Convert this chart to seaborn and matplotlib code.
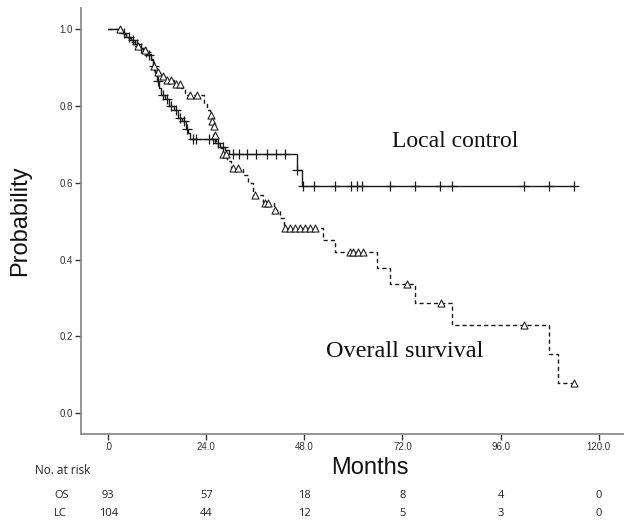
import numpy as np
import pandas as pd
import seaborn as sns
import matplotlib
matplotlib.use("Agg")
import matplotlib.pyplot as plt
import matplotlib.transforms as mtransforms

# # Data

# local control: step times (months) and survival after each step
lc_times = [0, 3.5, 4.5, 5.5, 6.5, 7.5, 8.5, 9.5, 10.5, 11.0, 11.5, 12.0, 12.5, 13.0, 14.0,
            15.0, 16.0, 17.0, 18.0, 19.0, 19.5, 20.0, 26.2, 27.4, 28.5, 29.5, 46.1, 47.4, 114.0]
lc_surv = [1.0, 0.99, 0.981, 0.971, 0.962, 0.952, 0.942, 0.933, 0.923, 0.904, 0.885, 0.866, 0.847, 0.828, 0.818,
           0.799, 0.789, 0.770, 0.760, 0.741, 0.731, 0.714, 0.703, 0.694, 0.685, 0.675, 0.633, 0.593, 0.593]
lc_cens = [3.8, 5.0, 6.0, 7.0, 8.0, 9.2, 10.0, 11.2, 12.3, 13.5, 14.5, 15.5, 16.5, 17.5, 18.5, 19.2,
           20.8, 21.6, 24.7, 25.6, 26.8, 28.0, 30.6, 31.9, 34.1, 36.3, 38.9, 41.0, 43.3, 46.1, 47.7,
           50.4, 55.5, 59.4, 61.0, 62.2, 69.0, 75.1, 81.3, 84.2, 101.7, 107.8, 114.0]

# overall survival
os_times = [0, 3.5, 4.5, 5.5, 6.5, 8.0, 9.5, 10.5, 11.0, 11.5, 12.8, 14.0, 16.0, 17.8, 18.8, 23.5, 24.2,
            25.0, 25.3, 25.7, 26.0, 26.5, 27.0, 28.0, 29.0, 30.0, 33.0, 34.3, 35.5, 38.0, 40.5, 42.0, 43.0,
            52.6, 55.5, 65.7, 69.0, 75.1, 84.2, 107.8, 110.1, 114.0]
os_surv = [1.0, 0.989, 0.978, 0.968, 0.957, 0.946, 0.935, 0.92, 0.905, 0.89, 0.878, 0.868, 0.857, 0.846, 0.83, 0.805, 0.79,
           0.778, 0.76, 0.747, 0.725, 0.708, 0.69, 0.674, 0.656, 0.639, 0.621, 0.60, 0.569, 0.548, 0.53, 0.508, 0.483,
           0.452, 0.421, 0.378, 0.336, 0.288, 0.23, 0.155, 0.078, 0.078]
os_cens = [2.9, 7.4, 9.0, 11.2, 12.3, 13.5, 14.3, 15.5, 16.7, 17.5, 20.0, 21.8, 25.1, 25.4, 25.8, 26.2,
           28.2, 28.9, 30.6, 31.8, 36.0, 38.4, 39.0, 40.8, 43.3, 44.5, 45.7, 46.9, 48.1, 49.4, 50.6,
           59.2, 60.0, 61.2, 62.4, 73.0, 81.4, 101.7, 114.0]

risk_months = [0, 24, 48, 72, 96, 120]
os_at_risk = [93, 57, 18, 8, 4, 0]
lc_at_risk = [104, 44, 12, 5, 3, 0]

x_ticks = [0, 24, 48, 72, 96, 120]
x_ticklabels = [".0", "24.0", "48.0", "72.0", "96.0", "120.0"]
y_ticks = [0.0, 0.2, 0.4, 0.6, 0.8, 1.0]


def censor_points(times, surv, cens):
    idx = np.searchsorted(times, cens, side="right") - 1
    return pd.DataFrame({"month": cens, "prob": np.asarray(surv)[idx]})


lc_df = pd.DataFrame({"month": lc_times, "prob": lc_surv})
os_df = pd.DataFrame({"month": os_times, "prob": os_surv})
lc_c = censor_points(lc_times, lc_surv, lc_cens)
os_c = censor_points(os_times, os_surv, os_cens)

# # Plot

sns.set_theme(style="white")
plt.rcParams["font.family"] = ["Liberation Sans", "DejaVu Sans"]

fig = plt.figure(figsize=(6.24, 5.24), dpi=100)
ax = fig.add_axes([0.130, 0.172, 0.870, 0.813])

ink = "#1a1a1a"
sns.lineplot(data=lc_df, x="month", y="prob", ax=ax, drawstyle="steps-post",
             color=ink, linewidth=1.0, estimator=None, sort=False)
sns.lineplot(data=os_df, x="month", y="prob", ax=ax, drawstyle="steps-post",
             color=ink, linewidth=1.0, estimator=None, sort=False, dashes=False,
             linestyle=(0, (3, 2.2)))
sns.scatterplot(data=lc_c, x="month", y="prob", ax=ax, marker="+", s=45,
                color=ink, linewidth=0.9, zorder=3)
sns.scatterplot(data=os_c, x="month", y="prob", ax=ax, marker="^", s=26,
                facecolor="white", edgecolor=ink, linewidth=0.75, zorder=4)

ax.set_xlim(-6.6, 126.2)
ax.set_ylim(-0.054, 1.056)
ax.set_xticks(x_ticks)
ax.set_xticklabels(x_ticklabels)
ax.set_yticks(y_ticks)
ax.set_yticklabels([f"{v:.1f}" for v in y_ticks])
ax.tick_params(axis="both", labelsize=7, length=4, width=1.0, color="#333333",
               labelcolor="#333333", direction="out", bottom=True, left=True, pad=2)

for side in ["top", "right"]:
    ax.spines[side].set_visible(False)
for side in ["left", "bottom"]:
    ax.spines[side].set_color("#8c8c8c")
    ax.spines[side].set_linewidth(1.3)

ax.set_xlabel("")
ax.set_ylabel("Probability", fontsize=17, color="#111111", labelpad=20)

ax.text(85, 0.707, "Local control", fontsize=17, family="Liberation Serif",
        ha="center", va="center", color="#111111")
ax.text(72.6, 0.16, "Overall survival", fontsize=17.5, family="Liberation Serif",
        ha="center", va="center", color="#111111")

# number at risk table under the axis
trans = mtransforms.blended_transform_factory(ax.transData, fig.transFigure)
fig.text(370 / 624, 1 - 468 / 524, "Months", fontsize=17, ha="center", va="center", color="#111111")
fig.text(35 / 624, 1 - 470 / 524, "No. at risk", fontsize=8.5, family="Open Sans",
         ha="left", va="center", color="#222222")
fig.text(54 / 624, 1 - 495 / 524, "OS", fontsize=8, family="Open Sans", ha="left", va="center", color="#222222")
fig.text(54 / 624, 1 - 514 / 524, "LC", fontsize=8, family="Open Sans", ha="left", va="center", color="#222222")
for m, o, l in zip(risk_months, os_at_risk, lc_at_risk):
    ax.text(m, 1 - 495 / 524, str(o), transform=trans, fontsize=8, family="Open Sans",
            ha="center", va="center", color="#222222")
    ax.text(m, 1 - 514 / 524, str(l), transform=trans, fontsize=8, family="Open Sans",
            ha="center", va="center", color="#222222")

fig.savefig("out.png", dpi=100)
